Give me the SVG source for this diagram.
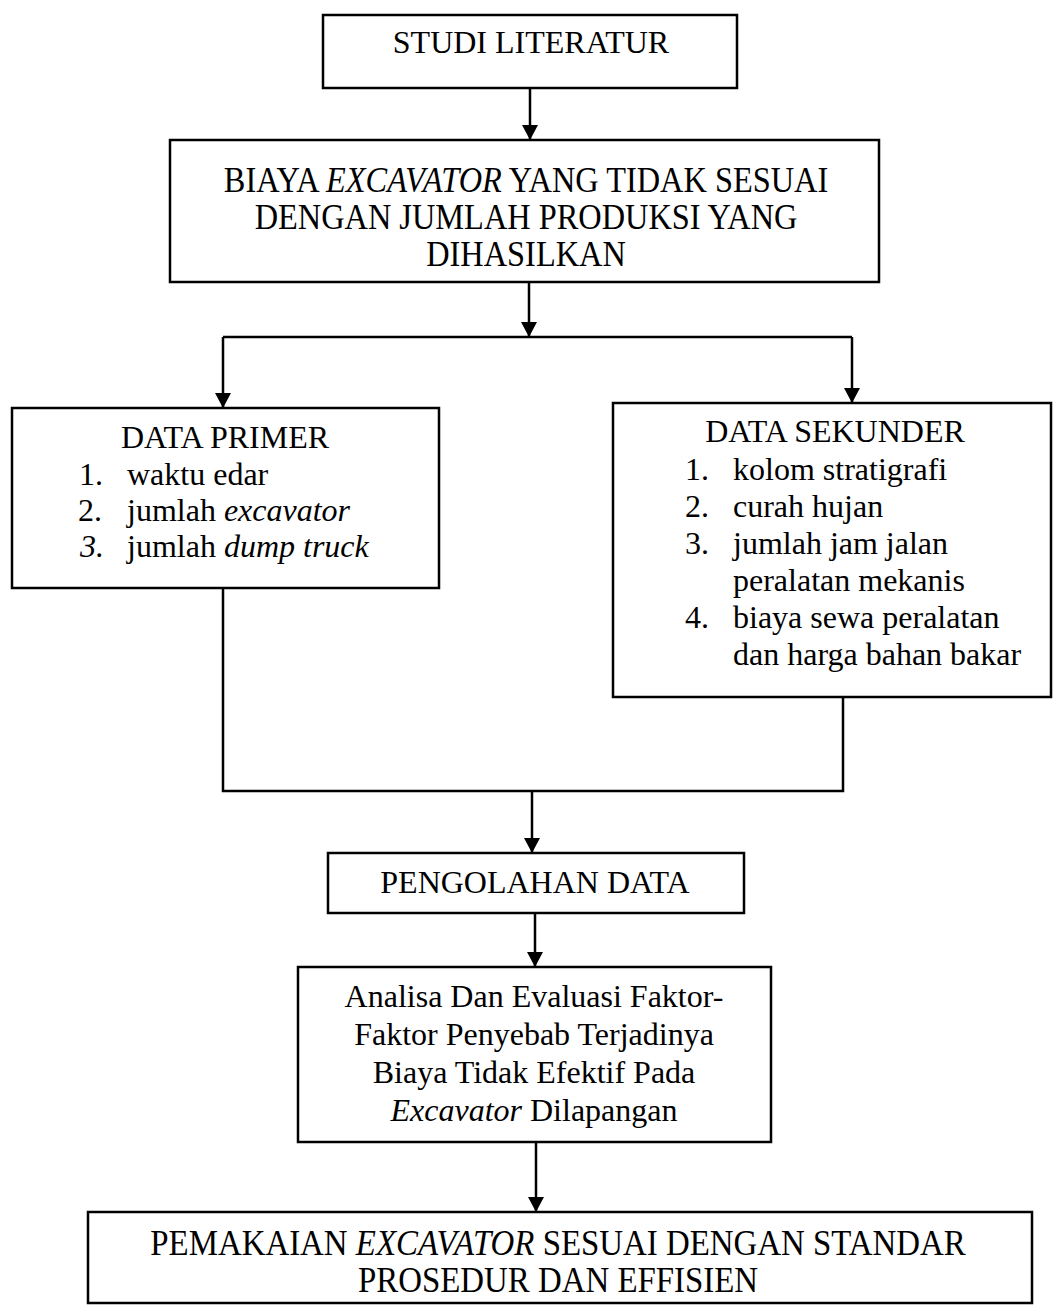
<svg xmlns="http://www.w3.org/2000/svg" width="1055" height="1308" viewBox="0 0 1055 1308">
<style>
.box{fill:#fff;stroke:#000;stroke-width:2.5}
.t{font-family:"Liberation Serif","Times New Roman",serif;font-size:32px;fill:#000}
.c{text-anchor:middle}
.tc{font-family:"Liberation Serif","Times New Roman",serif;font-size:35px;fill:#000;text-anchor:middle}
.i{font-style:italic}
.ln{fill:none;stroke:#000;stroke-width:2.5}
</style>
<defs>
<marker id="ah" markerUnits="userSpaceOnUse" markerWidth="16" markerHeight="16" refX="15" refY="8" orient="auto">
<path d="M0,0 L15,8 L0,16 z" fill="#000"/>
</marker>
</defs>
<rect width="1055" height="1308" fill="#fff"/>
<g id="connectors">
<line class="ln" x1="530" y1="88" x2="530" y2="140" marker-end="url(#ah)"/>
<line class="ln" x1="529" y1="282" x2="529" y2="337" marker-end="url(#ah)"/>
<line class="ln" x1="223" y1="337" x2="852" y2="337"/>
<line class="ln" x1="223" y1="337" x2="223" y2="408" marker-end="url(#ah)"/>
<line class="ln" x1="852" y1="337" x2="852" y2="403" marker-end="url(#ah)"/>
<polyline class="ln" points="223,588 223,791 843,791 843,697"/>
<line class="ln" x1="532" y1="791" x2="532" y2="853" marker-end="url(#ah)"/>
<line class="ln" x1="535" y1="913" x2="535" y2="967" marker-end="url(#ah)"/>
<line class="ln" x1="536" y1="1142" x2="536" y2="1212" marker-end="url(#ah)"/>
</g>
<g id="studi-literatur">
<rect class="box" x="323" y="15" width="414" height="73"/>
<text class="t c" x="531" y="53">STUDI LITERATUR</text>
</g>
<g id="biaya-excavator">
<rect class="box" x="170" y="140" width="709" height="142"/>
<g transform="translate(526,0) scale(0.925,1)">
<text class="tc" x="0" y="192">BIAYA <tspan class="i">EXCAVATOR</tspan> YANG TIDAK SESUAI</text>
<text class="tc" x="0" y="229">DENGAN JUMLAH PRODUKSI YANG</text>
<text class="tc" x="0" y="266">DIHASILKAN</text>
</g>
</g>
<g id="data-primer">
<rect class="box" x="12" y="408" width="427" height="180"/>
<text class="t c" x="225" y="448">DATA PRIMER</text>
<text class="t" x="79" y="485">1.</text>
<text class="t" x="127" y="485">waktu edar</text>
<text class="t" x="78" y="521">2.</text>
<text class="t" x="127" y="521">jumlah <tspan class="i">excavator</tspan></text>
<text class="t i" x="80" y="557">3.</text>
<text class="t" x="127" y="557">jumlah <tspan class="i">dump truck</tspan></text>
</g>
<g id="data-sekunder">
<rect class="box" x="613" y="403" width="438" height="294"/>
<text class="t c" x="835" y="442">DATA SEKUNDER</text>
<text class="t" x="685" y="480">1.</text>
<text class="t" x="733" y="480">kolom stratigrafi</text>
<text class="t" x="685" y="517">2.</text>
<text class="t" x="733" y="517">curah hujan</text>
<text class="t" x="685" y="554">3.</text>
<text class="t" x="733" y="554">jumlah jam jalan</text>
<text class="t" x="733" y="591">peralatan mekanis</text>
<text class="t" x="685" y="628">4.</text>
<text class="t" x="733" y="628">biaya sewa peralatan</text>
<text class="t" x="733" y="665">dan harga bahan bakar</text>
</g>
<g id="pengolahan-data">
<rect class="box" x="328" y="853" width="416" height="60"/>
<text class="t c" x="535" y="893">PENGOLAHAN DATA</text>
</g>
<g id="analisa">
<rect class="box" x="298" y="967" width="473" height="175"/>
<text class="t c" x="534" y="1007">Analisa Dan Evaluasi Faktor-</text>
<text class="t c" x="534" y="1045">Faktor Penyebab Terjadinya</text>
<text class="t c" x="534" y="1083">Biaya Tidak Efektif Pada</text>
<text class="t c" x="534" y="1121"><tspan class="i">Excavator</tspan> Dilapangan</text>
</g>
<g id="pemakaian">
<rect class="box" x="88" y="1212" width="944" height="91"/>
<g transform="translate(558,0) scale(0.94,1)">
<text class="tc" x="0" y="1255">PEMAKAIAN <tspan class="i">EXCAVATOR</tspan> SESUAI DENGAN STANDAR</text>
<text class="tc" x="0" y="1292">PROSEDUR DAN EFFISIEN</text>
</g>
</g>
</svg>
